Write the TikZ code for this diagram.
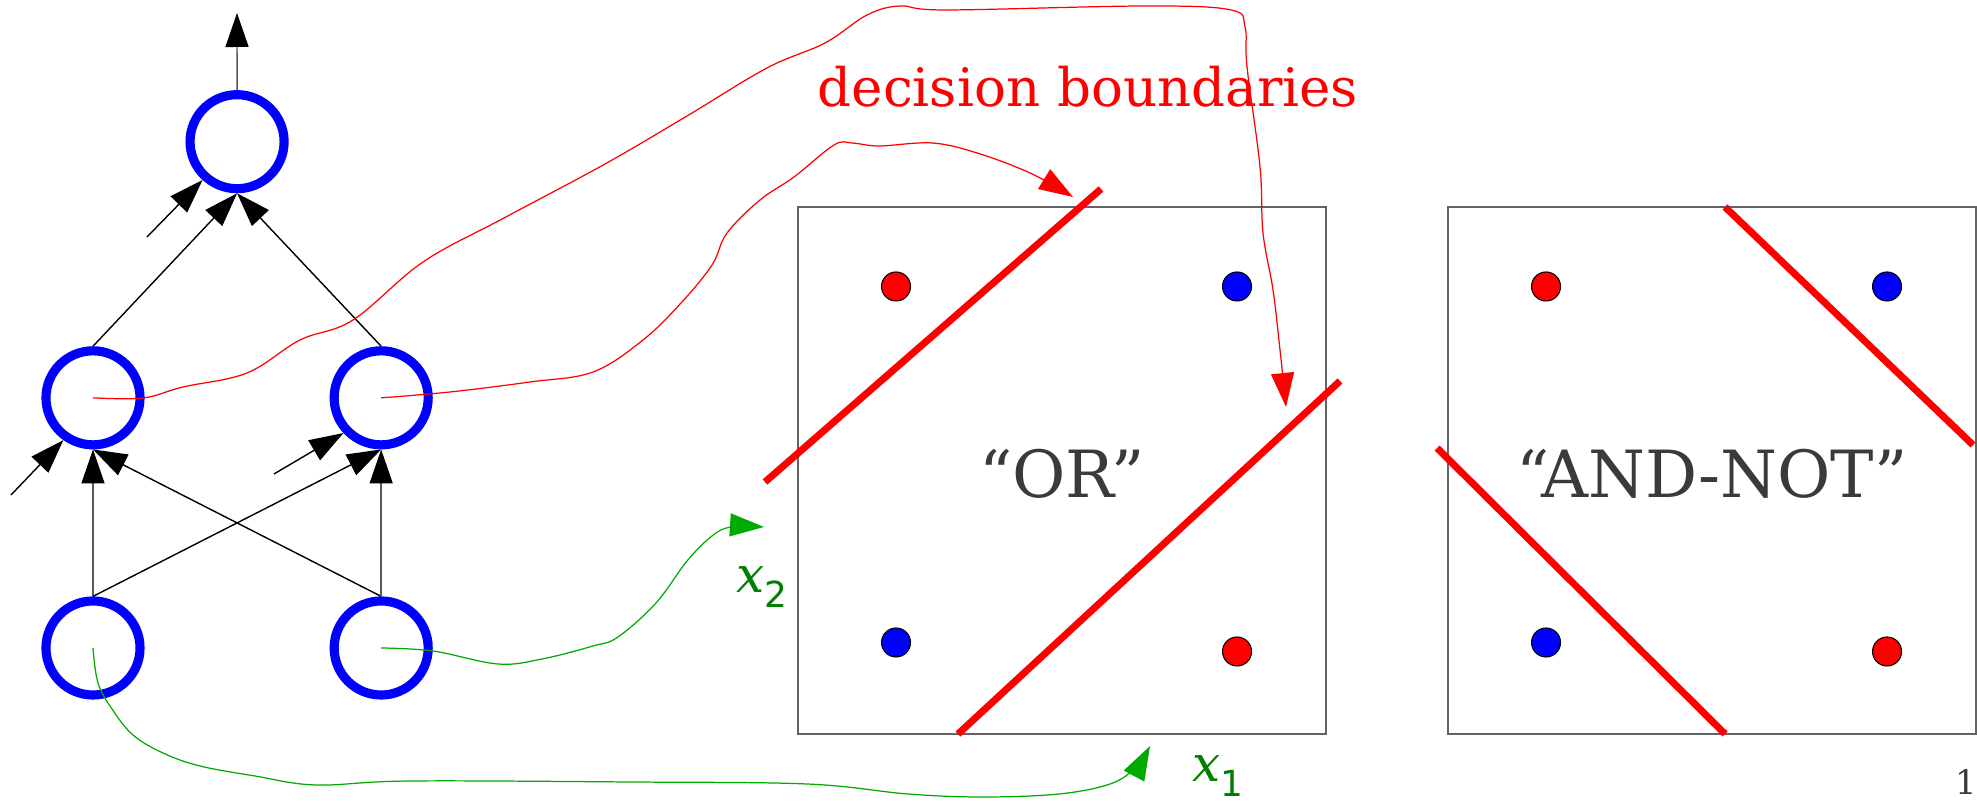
\documentclass[tikz,border=0pt]{standalone}
\usepackage{fontspec}
\setmainfont{DejaVu Serif}
\newfontfamily\varfont{DejaVu Sans}
\usepackage{tikz}
\usetikzlibrary{arrows.meta, positioning}

\definecolor{boundred}{RGB}{255,0,0}
\definecolor{nodeblue}{RGB}{0,0,255}
\definecolor{inputgreen}{RGB}{0,170,0}
\definecolor{labelgreen}{RGB}{0,128,0}
\definecolor{boxgray}{RGB}{100,100,100}
\definecolor{textgray}{RGB}{59,58,54}

\newcommand{\xin}[1]{{\itshape x}\raisebox{-4pt}{\varfont\fontsize{10.2}{12}\selectfont #1}}

\begin{document}
\begin{tikzpicture}[x=0.01cm, y=0.01cm]
    \tikzstyle{neuron} = [
        circle, draw=nodeblue, line width=2.6pt,
        minimum size=0.94cm, inner sep=0pt
    ]

    \tikzstyle{synapse} = [
        -{Triangle[length=0.34cm, width=0.23cm, color=black]},
        line width=0.4pt
    ]

    \tikzstyle{pointer} = [
        -{Triangle[length=0.34cm, width=0.23cm]}, line width=0.35pt
    ]

    \tikzstyle{plotbox} = [
        rectangle, draw=boxgray, line width=0.5pt,
        minimum width=5.28cm, minimum height=5.27cm, inner sep=0pt
    ]

    \tikzstyle{sample} = [
        circle, draw=black, line width=0.3pt,
        minimum size=0.29cm, inner sep=0pt
    ]

    \tikzstyle{boundary} = [draw=boundred, line width=2pt]

    \tikzstyle{boxlabel} = [
        text=textgray, anchor=base, inner sep=0pt, yshift=-0.265cm,
        font=\fontsize{18.5}{22}\selectfont
    ]

    \tikzstyle{varlabel} = [
        text=labelgreen, anchor=base west, inner sep=0pt,
        font=\fontsize{14.2}{17}\selectfont
    ]

    \useasboundingbox (0,0) rectangle (1977,801);

    % Network
    \node[neuron] (in1) at (93,153) {};
    \node[neuron, on grid, right=2.88cm of in1] (in2) {};
    \node[neuron, on grid, above=2.5cm of in1] (h1) {};
    \node[neuron, on grid, above=2.5cm of in2] (h2) {};
    \node[neuron, on grid, above right=2.56cm and 1.44cm of h1] (out) {};

    \coordinate (outtip) at (237,788);
    \coordinate (biasout) at (147,564);
    \coordinate (biash1) at (11,306);
    \coordinate (biash2) at (274,327);

    \draw[synapse, black!65] (in1.north) -- (h1.south);
    \draw[synapse] (in1.north) -- (h2.south);
    \draw[synapse] (in2.north) -- (h1.south);
    \draw[synapse, black!65] (in2.north) -- (h2.south);
    \draw[synapse] (h1.north) -- (out.south);
    \draw[synapse] (h2.north) -- (out.south);
    \draw[synapse, black!65] (out.north) -- (outtip);

    % Biases
    \draw[synapse] (biasout) -- (out.228);
    \draw[synapse] (biash1) -- (h1.235);
    \draw[synapse] (biash2) -- (h2.223);

    % Input spaces
    \node[plotbox] (orbox) at (1062,330.5) {};
    \node[plotbox] (andbox) at (1712,330.5) {};

    \foreach \b in {orbox, andbox} {
        \node[sample, fill=boundred] (\b-tl) at ([shift={(-166,184)}]\b.center) {};
        \node[sample, fill=nodeblue] (\b-tr) at ([shift={(175,184)}]\b.center) {};
        \node[sample, fill=nodeblue] (\b-bl) at ([shift={(-166,-172)}]\b.center) {};
        \node[sample, fill=boundred] (\b-br) at ([shift={(175,-181)}]\b.center) {};
    }

    \node[boxlabel] (orlabel) at (orbox.center) {“OR”};
    \node[boxlabel] (andlabel) at (andbox.center) {“AND-NOT”};

    % Decision boundaries
    \draw[boundary] (765,319) -- (1101,612);
    \draw[boundary] (958,67) -- (1340,420);
    \draw[boundary] (1725,594) -- (1973,356);
    \draw[boundary] (1437,353) -- (1725,67);

    \node[text=boundred, anchor=base, inner sep=0pt,
        font=\fontsize{15.1}{18}\selectfont] (dblabel) at (1088,694) {decision boundaries};

    \coordinate (tipA) at (1286,394);
    \coordinate (tipB) at (1073,604);

    \draw[pointer, boundred] plot[smooth, tension=0.6] coordinates {
        (h1.center) (143,403) (183,414) (247,428) (300,461) (353,481)
        (423,539) (504,583) (605,637) (687,685) (767,733) (825,758)
        (867,786) (900,795) (946,791) (1146,795) (1231,791) (1245,774)
        (1247,734) (1260,634) (1263,568) (1273,511) (1280,451) (tipA)
    };
    \draw[pointer, boundred] plot[smooth, tension=0.6] coordinates {
        (h2.center) (450,409) (530,419) (593,429) (643,461) (681,498)
        (712,536) (727,568) (760,601) (794,624) (834,656) (852,658)
        (879,655) (932,658) (977,648) (1030,628) (tipB)
    };

    % Inputs
    \coordinate (tipx2) at (764,274);
    \coordinate (tipx1) at (1150,55);

    \draw[pointer, inputgreen] plot[smooth, tension=0.6] coordinates {
        (in2.center) (433,150) (498,137) (542,142) (593,155) (618,164)
        (656,198) (687,240) (712,265) (731,274) (tipx2)
    };
    \draw[pointer, inputgreen] plot[smooth, tension=0.6] coordinates {
        (in1.center) (98,118) (112,92) (133,66) (163,48) (200,35) (255,25)
        (316,16) (410,20) (630,19) (807,17) (908,7) (983,4) (1059,7)
        (1110,17) (1135,33) (tipx1)
    };

    \node[varlabel] (x2label) at (736,208) {\xin{2}};
    \node[varlabel] (x1label) at (1192,19) {\xin{1}};

    \node[anchor=base west, inner sep=0pt, text=textgray,
        font=\fontsize{9.6}{11}\selectfont] (pagenum) at (1955,6) {1};

\end{tikzpicture}
\end{document}
